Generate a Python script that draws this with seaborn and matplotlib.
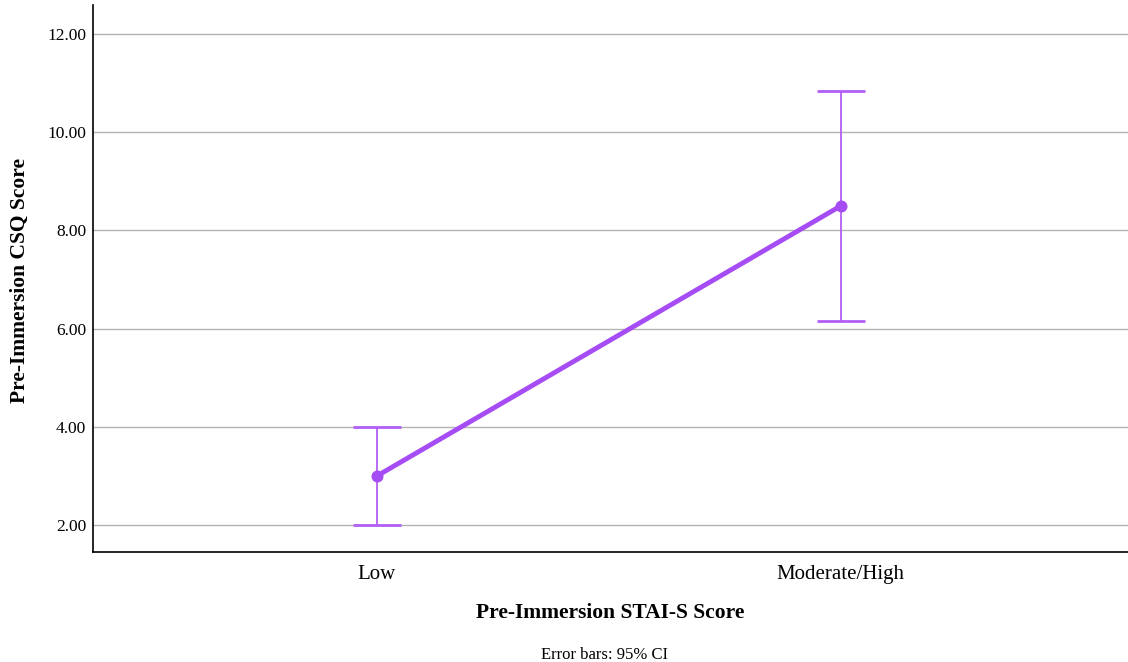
import numpy as np
import pandas as pd
import matplotlib.pyplot as plt
import seaborn as sns

sns.set_style("white")
plt.rcParams['font.family'] = ['Liberation Serif', 'DejaVu Serif']
plt.rcParams['text.color'] = 'black'
plt.rcParams['axes.labelcolor'] = 'black'
plt.rcParams['xtick.color'] = 'black'
plt.rcParams['ytick.color'] = 'black'

# group means and 95% CI
groups = ["Low", "Moderate/High"]
means = [3.0, 8.5]
ci_low = [2.0, 6.16]
ci_high = [4.0, 10.84]

df = pd.DataFrame({"group": groups, "score": means})

line_col = "#A64CF4"
err_col = "#B35EF6"

fig = plt.figure(figsize=(11.28, 6.62), dpi=100)
ax = fig.add_axes([0.0824, 0.166, 0.9176, 0.8264])

sns.pointplot(data=df, x="group", y="score", color=line_col, errorbar=None,
              markers="o", markersize=6, linewidth=3.5, ax=ax)

x = np.arange(len(groups))
m = np.array(means)
ax.errorbar(x, m, yerr=[m - np.array(ci_low), np.array(ci_high) - m],
            fmt="none", ecolor=err_col, elinewidth=1.3, capsize=17.5,
            capthick=2, zorder=1)

ax.set_xlim(-0.612, 1.619)
ax.set_ylim(1.45, 12.59)
ax.set_yticks([2, 4, 6, 8, 10, 12])
ax.set_yticklabels([f"{v:.2f}" for v in [2, 4, 6, 8, 10, 12]], fontsize=12.5)
ax.tick_params(axis="x", labelsize=15, length=0, pad=9)
ax.tick_params(axis="y", length=0, pad=5)
ax.yaxis.grid(True, color="#b4b4b4", linewidth=1)
ax.set_axisbelow(True)

for s in ["top", "right"]:
    ax.spines[s].set_visible(False)
for s in ["left", "bottom"]:
    ax.spines[s].set_color("black")
    ax.spines[s].set_linewidth(1.2)

ax.set_xlabel("Pre-Immersion STAI-S Score", fontsize=15.5, fontweight="bold",
              va="center")
ax.xaxis.set_label_coords(0.5, -0.1115)
ax.set_ylabel("Pre-Immersion CSQ Score", fontsize=15.5, fontweight="bold",
              va="center")
ax.yaxis.set_label_coords(-0.071, 0.497)

fig.text(0.5355, 0.0106, "Error bars: 95% CI", ha="center", va="center",
         fontsize=12)

fig.savefig("out.png", dpi=100)
